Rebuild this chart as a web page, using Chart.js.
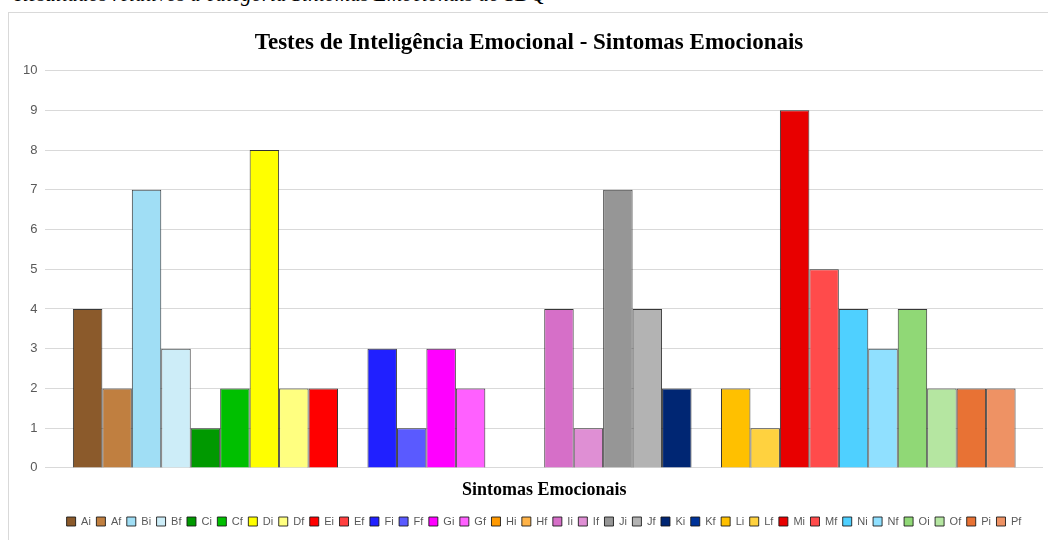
<!DOCTYPE html>
<html>
<head>
<meta charset="utf-8">
<script src="https://cdn.jsdelivr.net/npm/chart.js@4"></script>
<style>
  html, body { margin: 0; padding: 0; background: #ffffff; overflow: hidden; width: 1048px; height: 540px; }
  #caption {
    position: absolute; left: 15px; top: -16px; line-height: 21px; white-space: nowrap;
    font-family: 'Liberation Serif', 'Times New Roman', serif; font-style: italic; font-size: 21px; color: #000;
  }
  #box {
    position: absolute; left: 8px; top: 12px; width: 1052px; height: 540px;
    border: 1px solid #d9d9d9; box-sizing: border-box; background: #ffffff;
  }
  #wrap { position: absolute; left: 0; top: 0; width: 1050px; height: 528px; }
</style>
</head>
<body>
<div id="caption">Resultados relativos à categoria Sintomas Emocionais do SDQ</div>
<div id="box"><div id="wrap"><canvas id="chartSdq"></canvas></div></div>
<script>
// Dados: uma categoria, 32 séries (i = inicial, f = final)
var categorias = ['Sintomas Emocionais'];
var series = ['Ai', 'Af', 'Bi', 'Bf', 'Ci', 'Cf', 'Di', 'Df', 'Ei', 'Ef', 'Fi', 'Ff', 'Gi', 'Gf', 'Hi', 'Hf',
              'Ii', 'If', 'Ji', 'Jf', 'Ki', 'Kf', 'Li', 'Lf', 'Mi', 'Mf', 'Ni', 'Nf', 'Oi', 'Of', 'Pi', 'Pf'];
var valores = [4, 2, 7, 3, 1, 2, 8, 2, 2, 0, 3, 1, 3, 2, 0, 0,
               4, 1, 7, 4, 2, 0, 2, 1, 9, 5, 4, 3, 4, 2, 2, 2];
var cores = ['#8B5A2B', '#C07F40', '#A0DEF5', '#CDEDF8', '#009900', '#00BF00', '#FFFF00', '#FFFF80',
             '#FF0000', '#FF4040', '#2020FF', '#5A5AFF', '#FF00FF', '#FF60FF', '#FF9900', '#FFB347',
             '#D66FC8', '#DF8FD4', '#969696', '#B3B3B3', '#002673', '#003399', '#FFC000', '#FFD23F',
             '#E80000', '#FF4B4B', '#4FD0FF', '#90E0FF', '#90D876', '#B5E6A1', '#E87234', '#EE9264'];
var ticksY = [0, 1, 2, 3, 4, 5, 6, 7, 8, 9, 10];

Chart.defaults.font.family = "'Liberation Sans', Arial, sans-serif";
Chart.defaults.color = '#595959';

var datasets = series.map(function(nome, i) {
    return {
        label: nome,
        data: [valores[i]],
        backgroundColor: cores[i],
        borderColor: 'rgba(20, 20, 20, 0.85)',
        borderWidth: 1,
        barPercentage: 1,
        categoryPercentage: 0.945
    };
});

// desloca a legenda um pouco para a direita, como no original
var deslocaLegenda = {
    id: 'deslocaLegenda',
    afterLayout: function(chart) {
        if (chart.legend) {
            chart.legend.left += 15;
            chart.legend.right += 15;
        }
    }
};

new Chart(document.getElementById('chartSdq').getContext('2d'), {
    type: 'bar',
    data: { labels: categorias, datasets: datasets },
    plugins: [deslocaLegenda],
    options: {
        responsive: true,
        maintainAspectRatio: false,
        animation: false,
        layout: { padding: { left: 6, right: 16, top: 6, bottom: 4 } },
        plugins: {
            title: {
                display: true,
                text: 'Testes de Inteligência Emocional - Sintomas Emocionais',
                color: '#000000',
                font: { family: "'Liberation Serif', 'Times New Roman', serif", size: 23, weight: 'bold' },
                padding: { top: 10, bottom: 14 }
            },
            legend: {
                position: 'bottom',
                labels: {
                    color: '#595959',
                    boxWidth: 9,
                    boxHeight: 9,
                    padding: 5.5,
                    font: { size: 11 }
                }
            },
            tooltip: { enabled: false }
        },
        scales: {
            y: {
                min: 0,
                max: 10,
                afterBuildTicks: function(axis) {
                    axis.ticks = ticksY.map(function(v) { return { value: v }; });
                },
                border: { display: false },
                grid: { color: '#d9d9d9', drawTicks: false },
                ticks: { padding: 8, font: { size: 13 }, color: '#595959' }
            },
            x: {
                border: { display: false },
                grid: { display: false },
                ticks: { display: false },
                title: {
                    display: true,
                    text: 'Sintomas Emocionais',
                    color: '#000000',
                    font: { family: "'Liberation Serif', 'Times New Roman', serif", size: 18, weight: 'bold' },
                    padding: { top: 4, bottom: 9 }
                }
            }
        }
    }
});
</script>
</body>
</html>
